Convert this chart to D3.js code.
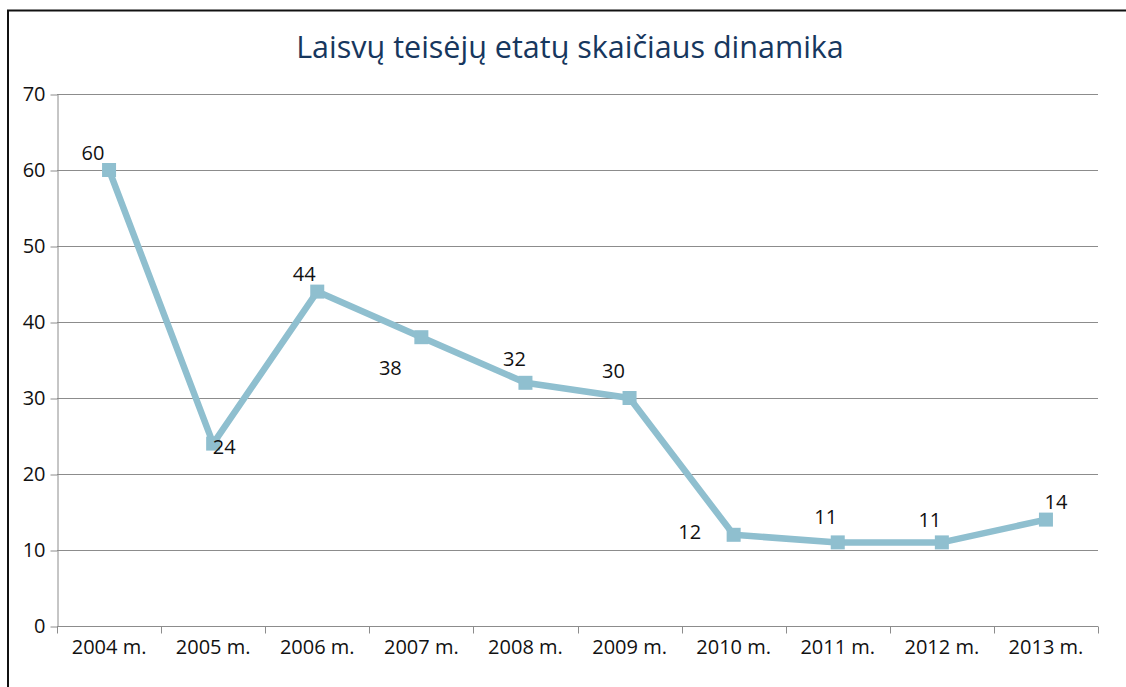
<!DOCTYPE html>
<html>
<head>
<meta charset="utf-8">
<script src="https://cdn.jsdelivr.net/npm/d3@7"></script>
<style>
  body { margin: 0; background: #fff; }
  text { font-family: "Open Sans", sans-serif; fill: #111; }
  .grid line { stroke: #8c8c8c; stroke-width: 1; }
  .axis path, .axis line { stroke: #8c8c8c; }
</style>
</head>
<body>
<div id="chart"></div>
<script>
var years = ["2004 m.", "2005 m.", "2006 m.", "2007 m.", "2008 m.", "2009 m.", "2010 m.", "2011 m.", "2012 m.", "2013 m."];
var vacancies = [60, 24, 44, 38, 32, 30, 12, 11, 11, 14];
var yTicks = [0, 10, 20, 30, 40, 50, 60, 70];
var title = "Laisvų teisėjų etatų skaičiaus dinamika";

var width = 1126,
    height = 687;

var margin = {left: 57, right: 28, top: 94, bottom: 61};

// where each value label sits relative to its point (as in the original)
var labelOffset = [[-16, -10], [11, 10], [-13, -11], [-31, 38], [-11, -17], [-16, -20], [-44, 4], [-12, -18], [-12, -15], [10, -11]];

var svg = d3.select("#chart").append("svg")
    .attr("width", width)
    .attr("height", height);

// frame
svg.append("path")
    .attr("d", "M8,700V10.5H1130")
    .attr("fill", "none")
    .attr("stroke", "#111")
    .attr("stroke-width", 2);

var x = d3.scaleBand()
    .domain(years)
    .range([margin.left, width - margin.right]);

var y = d3.scaleLinear()
    .domain([0, 70])
    .range([height - margin.bottom, margin.top]);

svg.append("g")
    .attr("class", "grid")
    .selectAll("line")
    .data(yTicks.slice(1))
    .enter().append("line")
    .attr("x1", margin.left)
    .attr("x2", width - margin.right)
    .attr("y1", function(d) { return Math.round(y(d)) + 0.5; })
    .attr("y2", function(d) { return Math.round(y(d)) + 0.5; });

var yAxis = svg.append("g")
    .attr("class", "axis")
    .attr("transform", "translate(" + (margin.left + 0.5) + ",0.5)")
    .call(d3.axisLeft(y).tickValues(yTicks).tickSize(7).tickSizeOuter(0).tickPadding(5));
yAxis.selectAll("text").style("font-size", "20px").attr("fill", "#111");

var xAxis = svg.append("g")
    .attr("class", "axis")
    .attr("transform", "translate(0," + (Math.round(y(0)) + 0.5) + ")")
    .call(d3.axisBottom(x).tickSize(0).tickPadding(13));
xAxis.select(".domain").attr("d", "M" + margin.left + ",0H" + (width - margin.right));
xAxis.selectAll("text").style("font-size", "20px").attr("fill", "#111");

// category boundary ticks
xAxis.append("g").selectAll("line")
    .data(years.concat(["end"]))
    .enter().append("line")
    .attr("x1", function(d, i) { return Math.round(margin.left + i * x.step()) + 0.5; })
    .attr("x2", function(d, i) { return Math.round(margin.left + i * x.step()) + 0.5; })
    .attr("y1", 0)
    .attr("y2", 7);

var cx = function(d, i) { return x(years[i]) + x.bandwidth() / 2; };

var line = d3.line()
    .x(cx)
    .y(function(d) { return y(d); });

svg.append("path")
    .datum(vacancies)
    .attr("fill", "none")
    .attr("stroke", "#8fbfcf")
    .attr("stroke-width", 6.5)
    .attr("stroke-linejoin", "round")
    .attr("d", line);

svg.selectAll(".pt")
    .data(vacancies)
    .enter().append("rect")
    .attr("class", "pt")
    .attr("x", function(d, i) { return cx(d, i) - 7; })
    .attr("y", function(d) { return y(d) - 7; })
    .attr("width", 14)
    .attr("height", 14)
    .attr("fill", "#8fbfcf");

svg.selectAll(".val")
    .data(vacancies)
    .enter().append("text")
    .attr("class", "val")
    .attr("x", function(d, i) { return cx(d, i) + labelOffset[i][0]; })
    .attr("y", function(d, i) { return y(d) + labelOffset[i][1]; })
    .attr("text-anchor", "middle")
    .style("font-size", "20px")
    .text(function(d) { return d; });

svg.append("text")
    .attr("x", 570)
    .attr("y", 58)
    .attr("text-anchor", "middle")
    .style("font-size", "30.5px")
    .style("fill", "#17375e")
    .text(title);
</script>
</body>
</html>
